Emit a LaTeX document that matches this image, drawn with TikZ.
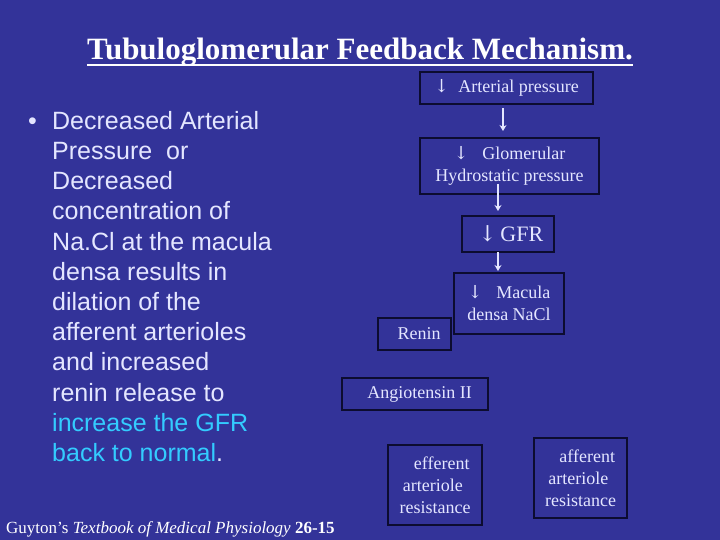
\documentclass[tikz,border=0pt]{standalone}
\usepackage{fontspec}
\setmainfont{Liberation Serif}
\newfontfamily\arial{Liberation Sans}
\newfontfamily\arrfont{DejaVu Serif}
\definecolor{bg}{HTML}{333399}
\definecolor{tx}{HTML}{E4E6FF}
\definecolor{cy}{HTML}{33CCFF}
\definecolor{bd}{HTML}{0C0C30}
\usetikzlibrary{arrows.meta}
\tikzset{bx/.style={draw=bd,line width=1.2pt,text=tx,font=\fontsize{18}{22}\selectfont,align=center,inner sep=0pt},
ar/.style={draw=tx,line width=1.8pt,-{Stealth[length=6pt,width=7pt]}}}
\begin{document}
\begin{tikzpicture}[x=1pt,y=-1pt]
\fill[bg] (0,0) rectangle (720,540);
\useasboundingbox (0,0) rectangle (720,540);
\node[text=white,font=\bfseries\fontsize{31}{36}\selectfont,anchor=base,inner sep=0pt] (title) at (360,60) {Tubuloglomerular Feedback Mechanism.};
\draw[white,line width=2pt] ([yshift=-5pt]title.base west) -- ([yshift=-5pt]title.base east);
\node[anchor=north west,text=tx,font=\arial\fontsize{25}{30.2}\selectfont,align=left,inner sep=0pt] (bul) at (28,111)
{\makebox[24pt][l]{•}Decreased Arterial\\
\hspace*{24pt}Pressure\ \ or\\
\hspace*{24pt}Decreased\\
\hspace*{24pt}concentration of\\
\hspace*{24pt}Na.Cl at the macula\\
\hspace*{24pt}densa results in\\
\hspace*{24pt}dilation of the\\
\hspace*{24pt}afferent arterioles\\
\hspace*{24pt}and increased\\
\hspace*{24pt}renin release to\\
\hspace*{24pt}\textcolor{cy}{increase the GFR}\\
\hspace*{24pt}\textcolor{cy}{back to normal}.};
\node[anchor=base west,text=white,font=\fontsize{17}{19}\selectfont,inner sep=0pt] (ref) at (6,533) {Guyton’s \textit{Textbook of Medical Physiology} \textbf{26-15}};
\node[bx,minimum width=173pt,minimum height=32pt] (a) at (506.5,88) {{\arrfont↓}\ \ Arterial pressure};
\node[bx,minimum width=179pt,minimum height=56pt] (g) at (509.5,166) {{\arrfont↓}\ \ \ Glomerular\\Hydrostatic pressure};
\node[bx,minimum width=92pt,minimum height=36pt,font=\fontsize{22}{24}\selectfont] (f) at (508,234) {\ {\arrfont↓}\,GFR};
\node[bx,minimum width=110pt,minimum height=61pt] (m) at (509,303.5) {{\arrfont↓}\ \ \ Macula\\densa NaCl};
\node[bx,minimum width=73pt,minimum height=32pt] (r) at (414.5,334) {\ \ Renin};
\node[bx,minimum width=146pt,minimum height=32pt] (ang) at (415,394) {\ \ Angiotensin II};
\node[bx,minimum width=94pt,minimum height=80pt] (e) at (435,485) {\ \ \ efferent\\arteriole\ \ \ \\resistance};
\node[bx,minimum width=93pt,minimum height=80pt] (af) at (580.5,478) {\ \ \ afferent\\arteriole\ \ \ \\resistance};
\coordinate (a1) at (503,108); \coordinate (a2) at (503,131);
\coordinate (g1) at (498,184); \coordinate (g2) at (498,211);
\coordinate (f1) at (498,252); \coordinate (f2) at (498,271);
\draw[ar] (a1) -- (a2);
\draw[ar] (g1) -- (g2);
\draw[ar] (f1) -- (f2);
\end{tikzpicture}
\end{document}
